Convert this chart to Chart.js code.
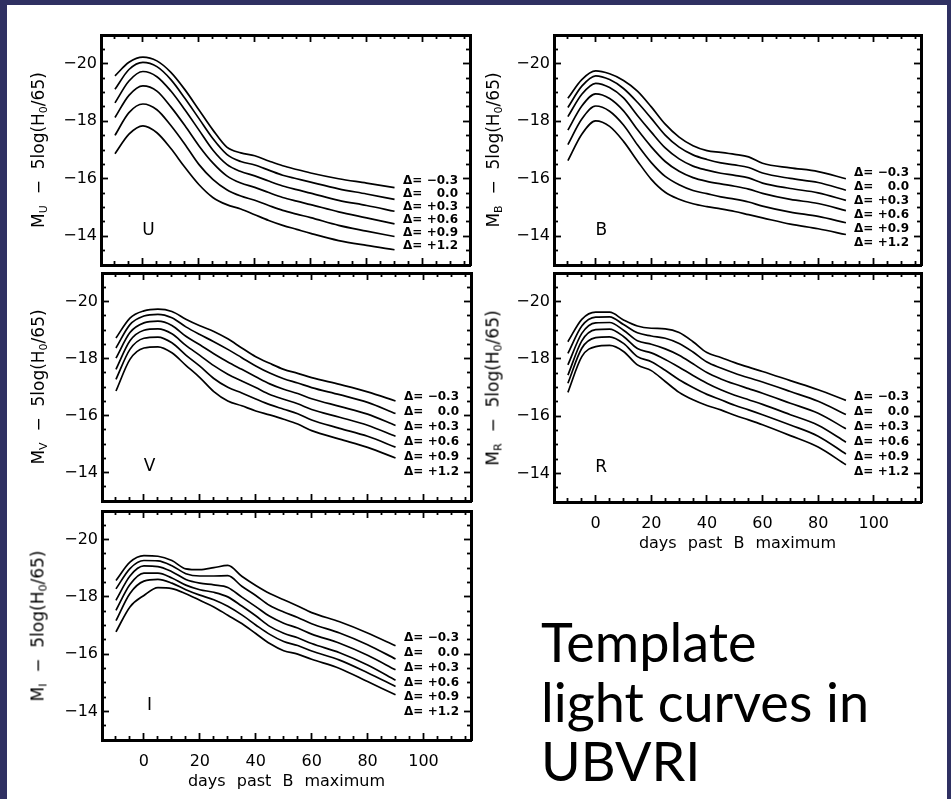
<!DOCTYPE html>
<html>
<head>
<meta charset="utf-8">
<title>Template light curves in UBVRI</title>
<script src="https://cdn.jsdelivr.net/npm/chart.js@4.4.0/dist/chart.umd.min.js"></script>
<style>
  html, body { margin: 0; padding: 0; }
  body { width: 951px; height: 799px; background: #2f3062; position: relative; overflow: hidden;
         font-family: 'DejaVu Sans', sans-serif; color: #000; }
  #paper { position: absolute; left: 7px; top: 5px; width: 940px; height: 794px; background: #fff; }
  canvas.panel { position: absolute; left: 0; top: 0; }
  .ytitle { position: absolute; white-space: nowrap; font-size: 17px; line-height: 1;
            transform: translate(-50%, -50%) rotate(-90deg); }
  .ytitle sub { font-size: 11px; vertical-align: -3px; }
  .xtitle { position: absolute; white-space: nowrap; font-size: 16px; word-spacing: 6px; line-height: 1;
            transform: translate(-50%, -50%); }
  #caption { position: absolute; left: 541px; top: 612px; font-family: Lato, 'Noto Sans', sans-serif;
             font-size: 54px; line-height: 59.5px; white-space: nowrap; }
</style>
</head>
<body>
<div id="paper"></div>
<div id="caption">Template<br>light curves in<br>UBVRI</div>
<script>
// days past B maximum, shared by every curve
const days = [-10, -5, 0, 5, 10, 15, 20, 25, 30, 35, 40, 45, 50, 55, 60, 70, 80, 90];

// decline-rate parameter of each template, top curve first
const deltaText = ['\u22120.3', '0.0', '+0.3', '+0.6', '+0.9', '+1.2'];

// axis ticks
const xMajor = [0, 20, 40, 60, 80, 100];
const xMinor = [-10, -5, 5, 10, 15, 25, 30, 35, 45, 50, 55, 65, 70, 75, 85, 90, 95, 105, 110, 115];
const yMajor = [-20, -18, -16, -14];
const yMinor = [-20.5, -19.5, -19, -18.5, -17.5, -17, -16.5, -15.5, -15, -14.5, -13.5];

// absolute magnitudes, one row per template
const magU = [
  [-19.58, -20.05, -20.23, -20.10, -19.70, -19.10, -18.40, -17.70, -17.10, -16.90, -16.80, -16.62, -16.45, -16.32, -16.20, -16.00, -15.85, -15.69],
  [-19.11, -19.80, -20.05, -19.90, -19.45, -18.80, -18.10, -17.40, -16.85, -16.60, -16.48, -16.30, -16.12, -16.00, -15.88, -15.65, -15.47, -15.28],
  [-18.64, -19.40, -19.73, -19.55, -19.05, -18.40, -17.70, -17.00, -16.50, -16.25, -16.10, -15.92, -15.75, -15.62, -15.50, -15.25, -15.07, -14.87],
  [-18.13, -18.90, -19.23, -19.05, -18.50, -17.85, -17.15, -16.55, -16.10, -15.85, -15.70, -15.52, -15.35, -15.22, -15.10, -14.85, -14.64, -14.43],
  [-17.51, -18.30, -18.60, -18.40, -17.85, -17.20, -16.50, -15.98, -15.62, -15.40, -15.25, -15.07, -14.90, -14.77, -14.65, -14.38, -14.18, -13.99],
  [-16.87, -17.55, -17.84, -17.60, -17.05, -16.40, -15.80, -15.35, -15.10, -14.95, -14.75, -14.55, -14.38, -14.24, -14.10, -13.85, -13.68, -13.53]
];
const magB = [
  [-18.80, -19.45, -19.75, -19.65, -19.42, -19.05, -18.50, -17.90, -17.45, -17.15, -16.98, -16.92, -16.85, -16.76, -16.54, -16.38, -16.25, -16.00],
  [-18.48, -19.22, -19.58, -19.45, -19.14, -18.66, -18.10, -17.52, -17.10, -16.83, -16.67, -16.55, -16.48, -16.39, -16.20, -16.01, -15.87, -15.60],
  [-18.16, -18.94, -19.32, -19.17, -18.81, -18.20, -17.62, -17.07, -16.69, -16.44, -16.30, -16.19, -16.12, -16.03, -15.85, -15.66, -15.51, -15.25],
  [-17.69, -18.53, -18.95, -18.79, -18.36, -17.71, -17.11, -16.60, -16.26, -16.04, -15.91, -15.82, -15.74, -15.64, -15.49, -15.28, -15.14, -14.89],
  [-17.19, -18.08, -18.53, -18.35, -17.87, -17.18, -16.56, -16.08, -15.79, -15.59, -15.48, -15.37, -15.29, -15.19, -15.05, -14.84, -14.69, -14.47],
  [-16.63, -17.55, -18.01, -17.82, -17.30, -16.62, -15.98, -15.53, -15.29, -15.13, -15.03, -14.95, -14.86, -14.75, -14.64, -14.42, -14.26, -14.06]
];
const magV = [
  [-18.72, -19.42, -19.67, -19.73, -19.65, -19.38, -19.15, -18.95, -18.69, -18.37, -18.06, -17.83, -17.62, -17.48, -17.33, -17.09, -16.83, -16.51],
  [-18.37, -19.19, -19.49, -19.55, -19.43, -19.11, -18.84, -18.59, -18.32, -18.03, -17.74, -17.49, -17.29, -17.14, -16.98, -16.73, -16.46, -16.07],
  [-18.01, -18.91, -19.25, -19.31, -19.16, -18.78, -18.48, -18.17, -17.88, -17.62, -17.36, -17.11, -16.92, -16.77, -16.59, -16.32, -16.05, -15.65],
  [-17.62, -18.62, -18.99, -19.04, -18.87, -18.46, -18.11, -17.75, -17.45, -17.21, -16.98, -16.74, -16.57, -16.41, -16.21, -15.94, -15.66, -15.27],
  [-17.27, -18.32, -18.71, -18.75, -18.55, -18.12, -17.73, -17.30, -16.99, -16.79, -16.58, -16.38, -16.22, -16.06, -15.84, -15.55, -15.27, -14.89],
  [-16.86, -17.97, -18.37, -18.41, -18.20, -17.76, -17.33, -16.84, -16.51, -16.34, -16.16, -16.02, -15.87, -15.70, -15.47, -15.17, -14.88, -14.51]
];
const magR = [
  [-18.60, -19.38, -19.63, -19.63, -19.36, -19.15, -19.07, -19.05, -18.92, -18.60, -18.22, -18.05, -17.87, -17.71, -17.56, -17.24, -16.92, -16.55],
  [-18.19, -19.15, -19.46, -19.47, -19.20, -18.91, -18.80, -18.72, -18.54, -18.24, -17.89, -17.68, -17.50, -17.34, -17.19, -16.86, -16.52, -16.06],
  [-17.79, -18.89, -19.26, -19.27, -19.00, -18.63, -18.51, -18.35, -18.13, -17.83, -17.52, -17.30, -17.12, -16.96, -16.80, -16.45, -16.10, -15.56],
  [-17.43, -18.63, -19.02, -19.04, -18.78, -18.36, -18.21, -17.98, -17.71, -17.42, -17.15, -16.92, -16.73, -16.57, -16.41, -16.05, -15.68, -15.09],
  [-17.15, -18.37, -18.74, -18.77, -18.54, -18.08, -17.90, -17.60, -17.27, -17.00, -16.76, -16.57, -16.38, -16.22, -16.05, -15.69, -15.30, -14.68],
  [-16.83, -18.08, -18.43, -18.47, -18.26, -17.79, -17.59, -17.21, -16.83, -16.57, -16.37, -16.22, -16.03, -15.87, -15.70, -15.32, -14.92, -14.30]
];
const magI = [
  [-18.57, -19.21, -19.44, -19.42, -19.27, -18.98, -18.95, -19.02, -19.10, -18.72, -18.40, -18.12, -17.90, -17.68, -17.45, -17.13, -16.74, -16.29],
  [-18.28, -18.99, -19.27, -19.26, -19.09, -18.81, -18.73, -18.73, -18.74, -18.37, -18.05, -17.70, -17.47, -17.28, -17.06, -16.74, -16.33, -15.83],
  [-17.88, -18.73, -19.08, -19.06, -18.88, -18.61, -18.48, -18.42, -18.33, -17.99, -17.66, -17.32, -17.08, -16.91, -16.70, -16.38, -15.96, -15.45],
  [-17.53, -18.43, -18.83, -18.83, -18.66, -18.41, -18.25, -18.16, -18.00, -17.68, -17.34, -16.97, -16.73, -16.57, -16.37, -16.05, -15.62, -15.09],
  [-17.17, -18.12, -18.55, -18.61, -18.48, -18.25, -18.06, -17.90, -17.67, -17.37, -17.02, -16.69, -16.44, -16.30, -16.11, -15.79, -15.35, -14.87],
  [-16.78, -17.65, -18.05, -18.32, -18.29, -18.11, -17.88, -17.65, -17.36, -17.07, -16.72, -16.37, -16.12, -16.00, -15.82, -15.50, -15.04, -14.58]
];

const W = 951, H = 799;
const xRange = [-15, 117];
const yRange = [-21, -13];
const font = "'DejaVu Sans', sans-serif";
const yLabelBox = 60;   // room kept for the y tick labels
const xLabelBox = 40;   // room kept for the x tick labels

// panel frames in page pixels
const panels = [
  { band: 'U', rows: magU, left: 101, top: 35,  right: 470, bottom: 265, xLabels: false, labelTop: 146, labelStep: 13 },
  { band: 'B', rows: magB, left: 554, top: 35,  right: 921, bottom: 265, xLabels: false, labelTop: 138, labelStep: 14 },
  { band: 'V', rows: magV, left: 102, top: 273, right: 471, bottom: 501, xLabels: false, labelTop: 124, labelStep: 15 },
  { band: 'R', rows: magR, left: 554, top: 273, right: 921, bottom: 502, xLabels: true,  labelTop: 124, labelStep: 15 },
  { band: 'I', rows: magI, left: 102, top: 511, right: 471, bottom: 740, xLabels: true,  labelTop: 127, labelStep: 14.8 }
];

function minus(v) {
  return (v < 0 ? '\u2212' : '') + Math.abs(v);
}

// one side of the frame; ticks point inwards (negative tick length).
// size = room for labels; labelled axes get weight 1 so they sit outside the minor-tick axes
function axis(pos, values, len, labels, border, size) {
  const horiz = pos === 'top' || pos === 'bottom';
  const range = horiz ? xRange : yRange;
  return {
    type: 'linear',
    axis: horiz ? 'x' : 'y',
    position: pos,
    display: true,
    weight: size ? 1 : 0,
    bounds: 'data',
    min: range[0],
    max: range[1],
    reverse: !horiz,
    afterFit: s => { if (horiz) s.height = size; else s.width = size; },
    afterBuildTicks: s => { s.ticks = values.map(v => ({ value: v })); },
    grid: { display: true, drawOnChartArea: false, drawTicks: true, tickLength: -len, tickWidth: 1.8, tickColor: '#000' },
    border: { display: border, width: 3, color: '#000' },
    ticks: {
      display: labels,
      autoSkip: false,
      maxRotation: 0,
      padding: horiz ? 19 : 11,
      color: '#000',
      font: { family: font, size: 16 },
      callback: v => minus(v)
    }
  };
}

// band letter and the delta labels at the right end of the curves
const annotate = {
  id: 'annotate',
  afterDatasetsDraw(chart, args, opts) {
    const { ctx, chartArea, scales } = chart;
    ctx.save();
    ctx.fillStyle = '#000';
    ctx.textBaseline = 'middle';
    ctx.textAlign = 'center';
    ctx.font = "17px " + font;
    ctx.fillText(opts.band, scales.x.getPixelForValue(2), scales.y.getPixelForValue(-14.2));
    ctx.font = "bold 12px " + font;
    deltaText.forEach((t, k) => {
      const y = chartArea.top + opts.labelTop + k * opts.labelStep;
      ctx.textAlign = 'left';
      ctx.fillText('\u0394=', chartArea.right - 67, y);
      ctx.textAlign = 'right';
      ctx.fillText(t, chartArea.right - 12, y);
    });
    ctx.restore();
  }
};

function addText(cls, html, x, y) {
  const el = document.createElement('div');
  el.className = cls;
  el.innerHTML = html;
  el.style.left = x + 'px';
  el.style.top = y + 'px';
  document.body.appendChild(el);
}

panels.forEach(p => {
  const cv = document.createElement('canvas');
  cv.className = 'panel';
  cv.width = W;
  cv.height = H;
  document.body.appendChild(cv);

  const xBox = p.xLabels ? xLabelBox : 0;

  new Chart(cv, {
    type: 'line',
    data: {
      datasets: p.rows.map((row, k) => ({
        label: '\u0394=' + deltaText[k],
        xAxisID: 'x',
        yAxisID: 'y',
        data: days.map((d, i) => ({ x: d, y: row[i] })),
        borderColor: '#000',
        borderWidth: 1.7,
        pointRadius: 0,
        fill: false,
        cubicInterpolationMode: 'monotone'
      }))
    },
    options: {
      responsive: false,
      animation: false,
      devicePixelRatio: 1,
      events: [],
      layout: { padding: { left: p.left - yLabelBox, top: p.top, right: W - p.right, bottom: H - p.bottom - xBox } },
      plugins: {
        legend: { display: false },
        tooltip: { enabled: false },
        annotate: { band: p.band, labelTop: p.labelTop, labelStep: p.labelStep }
      },
      scales: {
        x:  axis('bottom', xMajor, 7, p.xLabels, true, xBox),
        y:  axis('left', yMajor, 7, true, true, yLabelBox),
        x2: axis('bottom', xMinor, 4, false, false, 0),
        y2: axis('left', yMinor, 4, false, false, 0),
        xt: axis('top', xMajor, 7, false, true, 0),
        xt2: axis('top', xMinor, 4, false, false, 0),
        yr: axis('right', yMajor, 7, false, true, 0),
        yr2: axis('right', yMinor, 4, false, false, 0)
      }
    },
    plugins: [annotate]
  });

  const xc = p.left < 300 ? 39 : 494;
  addText('ytitle', 'M<sub>' + p.band + '</sub>&nbsp; \u2212 &nbsp;5log(H<sub>0</sub>/65)', xc, (p.top + p.bottom) / 2);
  if (p.xLabels) addText('xtitle', 'days past B maximum', (p.left + p.right) / 2, p.bottom + 41);
});
</script>
</body>
</html>
